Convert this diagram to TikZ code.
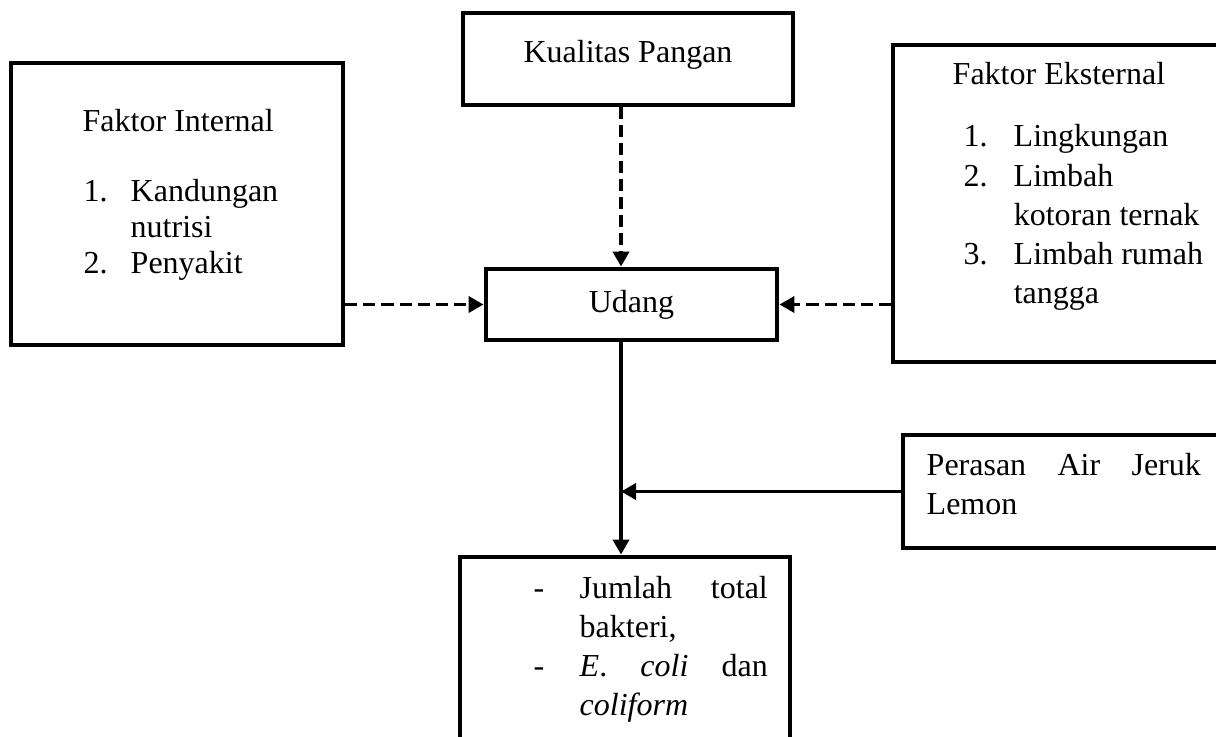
\documentclass[tikz,border=0pt]{standalone}
\usepackage{fontspec}
\setmainfont{Liberation Serif}
\usetikzlibrary{arrows.meta}

\begin{document}
\begin{tikzpicture}[x=0.01cm, y=-0.01cm,
        kotak/.style={rectangle, draw=black, line width=1.35pt, inner sep=0pt},
        teks/.style={inner sep=0pt, font=\fontsize{9.1}{11.1}\selectfont},
        panah/.style={-{Triangle[length=0.15cm, width=0.16cm]}, line width=1.05pt},
        panahputus/.style={panah, dash pattern=on 0.12cm off 0.06cm}%
    ]
        \clip (0,0) rectangle (1216,737);
        \fill[white] (0,0) rectangle (1216,737);
        \coordinate (sumbu) at (621,0);

        % kotak
        \node[kotak, minimum width=3.32cm, minimum height=2.82cm] (internal) at (177,204) {};
        \node[kotak, teks, minimum width=3.30cm, minimum height=0.92cm, text depth=0.16cm] (kualitas) at (628,59) {Kualitas Pangan};
        \node[kotak, minimum width=3.67cm, minimum height=3.17cm] (eksternal) at (1076.5,203.5) {};
        \node[kotak, teks, minimum width=2.91cm, minimum height=0.71cm] (udang) at (631.5,304.5) {Udang};
        \node[kotak, minimum width=3.57cm, minimum height=1.13cm] (lemon) at (1081.5,491.5) {};
        \node[kotak, minimum width=3.30cm, minimum height=2.43cm] (hasil) at (625,678.5) {};

        % isi kotak
        \node[teks, anchor=base west] (internaljudul) at (82,132) {Faktor Internal};
        \node[teks, anchor=base west, font=\fontsize{9.1}{10.2}\selectfont] (internaldaftar) at (83,202)
            {\begin{tabular}[t]{@{}p{0.47cm}@{}l@{}}1. & Kandungan\\ & nutrisi\\ 2. & Penyakit\end{tabular}};
        \node[teks, anchor=base west] (eksternaljudul) at (952,85) {Faktor Eksternal};
        \node[teks, anchor=base west] (eksternaldaftar) at (963,147)
            {\begin{tabular}[t]{@{}p{0.50cm}@{}l@{}}1. & Lingkungan\\ 2. & Limbah\\ & kotoran ternak\\ 3. & Limbah rumah\\ & tangga\end{tabular}};
        \node[teks, anchor=base west, text width=2.74cm, align=left] (lemonteks) at (926,475) {Perasan\hfill Air\hfill Jeruk\\ Lemon};
        \node[teks, anchor=base west] (hasilteks) at (533,598)
            {\begin{tabular}[t]{@{}p{0.46cm}@{}p{1.88cm}@{}}- & Jumlah\hfill total\\ & bakteri,\\ - & \textit{E}.\hfill\textit{coli}\hfill dan\\ & \textit{coliform}\end{tabular}};

        % panah
        \draw[panahputus] (kualitas.south -| sumbu) -- (udang.north -| sumbu);
        \draw[panahputus] (internal.east |- udang.west) -- (udang.west);
        \draw[panahputus] (eksternal.west |- udang.east) -- (udang.east);
        \draw[panah] (udang.south -| sumbu) -- (hasil.north -| sumbu);
        \draw[panah] (lemon.west) -- (lemon.west -| sumbu);
    \end{tikzpicture}
\end{document}
